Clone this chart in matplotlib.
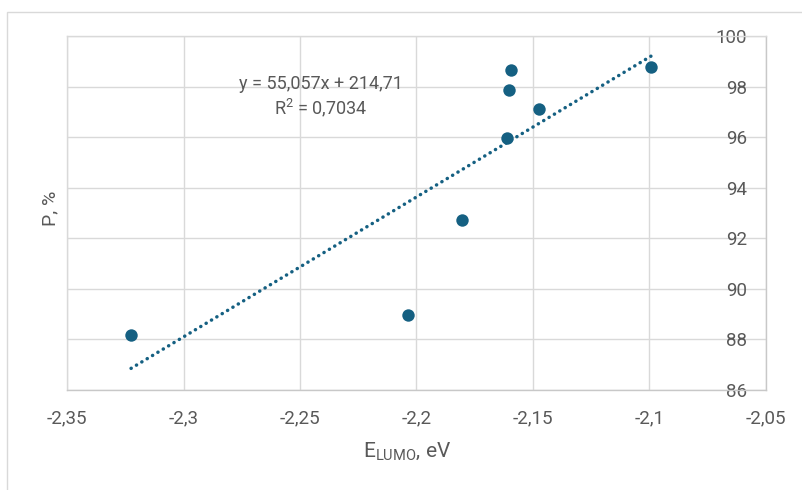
import numpy as np
import matplotlib
matplotlib.use("Agg")
from matplotlib import pyplot as plt
from matplotlib.ticker import FuncFormatter
from matplotlib.patches import Rectangle

plt.rcParams['font.family'] = ['Roboto', 'DejaVu Sans']

# values
e_lumo = [-2.3225, -2.2036, -2.1805, -2.1612, -2.1603, -2.1594, -2.1474, -2.0994]
p_yield = [88.19, 88.98, 92.72, 95.98, 97.85, 98.65, 97.10, 98.77]
x_ticks = [-2.35, -2.3, -2.25, -2.2, -2.15, -2.1, -2.05]
y_ticks = [86, 88, 90, 92, 94, 96, 98, 100]
eq_text = "y = 55,057x + 214,71"
r2_text = "R$^{\\mathregular{2}}$ = 0,7034"

blue = "#156082"
grey_txt = "#595959"
grid_c = "#D9D9D9"

W, H = 803, 490
fig = plt.figure(figsize=(W / 100, H / 100), dpi=100)
# outer chart frame (only top and left visible in the screenshot)
fig.patches.append(Rectangle((7 / W, -0.1), 1.2, 1.1 - 12 / H, transform=fig.transFigure,
                             fill=False, edgecolor=grid_c, lw=1.0))

ax = fig.add_axes([67 / W, 1 - 390 / H, (766 - 67) / W, (390 - 36) / H])
ax.set_xlim(x_ticks[0], x_ticks[-1])
ax.set_ylim(y_ticks[0], y_ticks[-1])
ax.set_xticks(x_ticks)
ax.set_yticks(y_ticks)
ax.xaxis.set_major_formatter(FuncFormatter(lambda v, p: ("%g" % v).replace(".", ",")))
ax.grid(True, color=grid_c, lw=1.0)
ax.set_axisbelow(True)
for s in ax.spines.values():
    s.set_color(grid_c)
    s.set_linewidth(1.0)
ax.spines['right'].set_color("#C8C8C8")
ax.spines['bottom'].set_color("#C8C8C8")

# y labels sit inside, left of the right axis (axis crosses at x max)
ax.yaxis.set_ticks_position('right')
ax.tick_params(axis='y', length=0, pad=-13.5, labelsize=13.5, labelcolor=grey_txt)
for lab in ax.get_yticklabels():
    lab.set_ha('right')
ax.tick_params(axis='x', length=0, pad=14, labelsize=13.5, labelcolor=grey_txt)

# linear trend
k, b = np.polyfit(e_lumo, p_yield, 1)
xt = np.array([min(e_lumo), max(e_lumo)])
ax.plot(xt, k * xt + b, color=blue, lw=2.5, dashes=(0.05, 1.75),
        dash_capstyle='round', zorder=2)
ax.scatter(e_lumo, p_yield, s=80, color=blue, zorder=3, linewidths=0)

ax.text(-2.241, 98.1, eq_text, ha='center', va='center', fontsize=13, color=grey_txt)
ax.text(-2.241, 97.15, r2_text, ha='center', va='center', fontsize=13, color=grey_txt)

fig.text(407 / W, 1 - 452 / H, "E$_{\\mathregular{LUMO}}$, eV", ha='center', va='center',
         fontsize=15, color=grey_txt)
fig.text(50 / W, 1 - 208 / H, "P, %", ha='center', va='center', rotation=90,
         fontsize=14, color=grey_txt)

fig.savefig("out.png", dpi=100)
